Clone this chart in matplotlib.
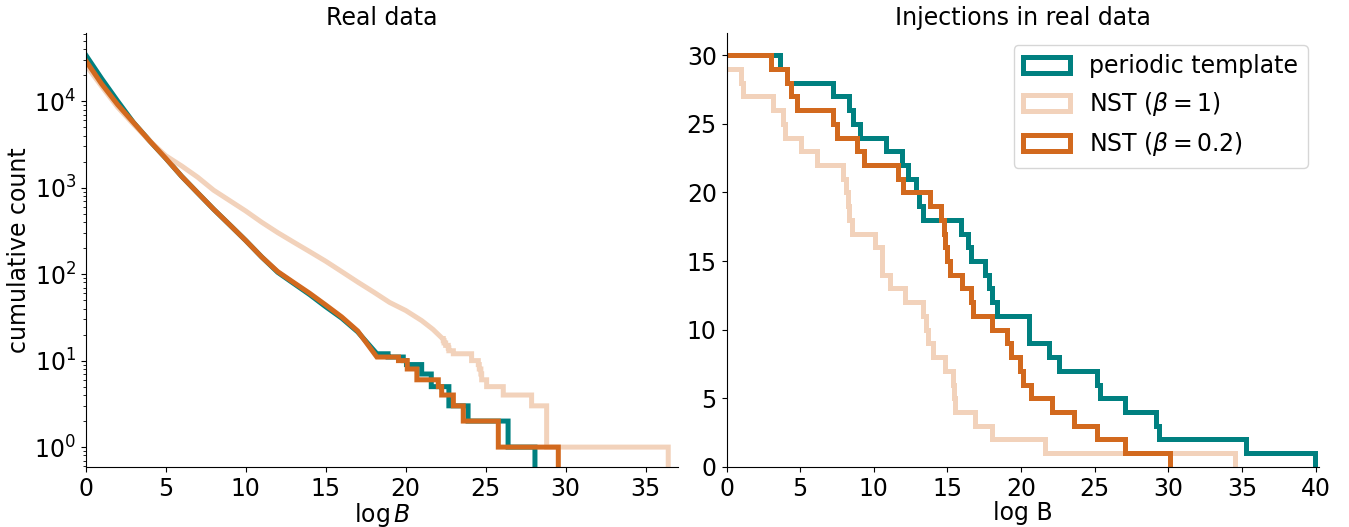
import numpy as np
import matplotlib.pyplot as plt
from matplotlib.patches import Patch

plt.rcParams['font.size'] = 17

c_per = 'teal'
c_b1 = '#f2d2bb'
c_b02 = 'chocolate'
labels = ['periodic template', r'NST ($\beta=1$)', r'NST ($\beta=0.2$)']

# Real data: smooth head of the survival counts, then the last few events one by one
per_head_x = [0, 1, 2, 3, 4, 5, 6, 7, 8, 9, 10, 11, 12, 13, 14, 15, 16, 17, 18.2]
per_head_n = [34300, 18200, 10000, 5620, 3470, 2190, 1350, 870, 562, 372, 245, 158, 105, 78, 58, 42, 31, 21.5, 12]
per_tail = [18.9, 19.85, 20.05, 21.0, 21.0, 21.6, 21.6, 22.7, 22.7, 23.9, 26.4, 28.08]

b02_head_x = [0, 1, 2, 3, 4, 5, 6, 7, 8, 9, 10, 11, 12, 13, 14, 15, 16, 17, 18.2]
b02_head_n = [29500, 15800, 9100, 5620, 3470, 2190, 1350, 870, 562, 372, 245, 158, 107, 80, 60, 44, 32, 22, 11]
b02_tail = [19.55, 20.1, 20.1, 20.7, 20.7, 22.04, 22.25, 22.98, 23.6, 25.79, 29.54]

b1_head_x = [0, 1, 2, 3, 4, 5, 6, 7, 8, 9, 10, 11, 12, 13, 14, 15, 16, 17, 18, 19, 20, 21, 21.7, 22.3]
b1_head_n = [26300, 14800, 8500, 5370, 3470, 2340, 1780, 1320, 933, 708, 537, 398, 302, 234, 182, 141,
             107, 81, 62, 47, 38, 29, 23, 18]
b1_tail = [22.35, 22.4, 22.5, 22.66, 22.7, 22.98, 24.12, 24.12, 24.54, 24.6, 24.7, 24.75, 25.06, 26.1,
           27.87, 28.81, 28.81, 36.41]

# Injections: log B of the 30 injections for each search
inj_per = [3.6, 4.08, 7.25, 8.3, 8.61, 9.05, 10.8, 11.9, 12.33, 12.88, 13.1, 13.37, 15.9, 16.43, 16.6,
           17.53, 17.79, 18.01, 18.35, 20.55, 20.55, 21.9, 22.57, 25.15, 25.38, 27.03, 29.18, 29.34, 35.3, 39.95]
inj_b1 = [-0.5, 1.0, 1.13, 3.15, 3.82, 3.98, 5.07, 6.12, 7.93, 8.11, 8.27, 8.34, 8.5, 10.08, 10.54, 10.56,
          11.1, 12.12, 13.37, 13.55, 13.71, 14.05, 14.84, 15.41, 15.43, 15.52, 16.88, 18.01, 21.64, 34.5]
inj_b02 = [3.03, 4.08, 4.4, 4.76, 7.25, 7.5, 8.84, 9.35, 11.65, 11.97, 13.8, 14.55, 14.8, 14.85, 14.96,
           15.18, 15.97, 16.59, 16.77, 18.05, 19.05, 19.32, 19.9, 20.12, 20.65, 22.09, 23.56, 25.15, 27.08, 30.1]


def cum_path(head_x, head_n, tail):
    s = np.sort(tail)
    n = len(s)
    xs = np.concatenate([head_x, np.repeat(s, 2)])
    steps = np.repeat(np.arange(n, -1, -1), 2)[1:-1].astype(float)
    steps[steps == 0] = 0.1  # drop below the axis
    ys = np.concatenate([head_n, steps])
    return xs, ys


fig, (ax1, ax2) = plt.subplots(1, 2, figsize=(13.49, 5.27), dpi=100)
fig.subplots_adjust(left=0.0635, right=0.978, bottom=0.114, top=0.937, wspace=0.081)

lw = 3.6
for hx, hn, tl, c in [(per_head_x, per_head_n, per_tail, c_per),
                      (b1_head_x, b1_head_n, b1_tail, c_b1),
                      (b02_head_x, b02_head_n, b02_tail, c_b02)]:
    xs, ys = cum_path(hx, hn, tl)
    ax1.plot(xs, ys, color=c, lw=lw, solid_joinstyle='miter')

ax1.set_yscale('log')
ax1.set_ylim(0.59, 61000)
ax1.set_xlim(0, 37.05)
ax1.set_xticks(np.arange(0, 36, 5))
ax1.set_xlabel(r'$\log B$', labelpad=0)
ax1.set_ylabel('cumulative count', labelpad=2)
ax1.set_title('Real data', fontsize=17)

for inj, c in [(inj_per, c_per), (inj_b1, c_b1), (inj_b02, c_b02)]:
    s = np.sort(inj)
    edges = np.concatenate([[-1.5], s])
    ax2.stairs(np.arange(len(s), 0, -1), edges, baseline=0, fill=False, color=c, lw=lw)

ax2.set_xlim(0, 40.25)
ax2.set_ylim(0, 31.6)
ax2.set_xticks(np.arange(0, 41, 5))
ax2.set_yticks(np.arange(0, 31, 5))
ax2.set_xlabel('log B', labelpad=0)
ax2.set_title('Injections in real data', fontsize=17)

handles = [Patch(facecolor='white', edgecolor=c, lw=lw) for c in [c_per, c_b1, c_b02]]
ax2.legend(handles, labels, loc='upper right')

for ax in (ax1, ax2):
    ax.spines['top'].set_visible(False)
    ax.spines['right'].set_visible(False)

fig.savefig('out.png', dpi=100)
